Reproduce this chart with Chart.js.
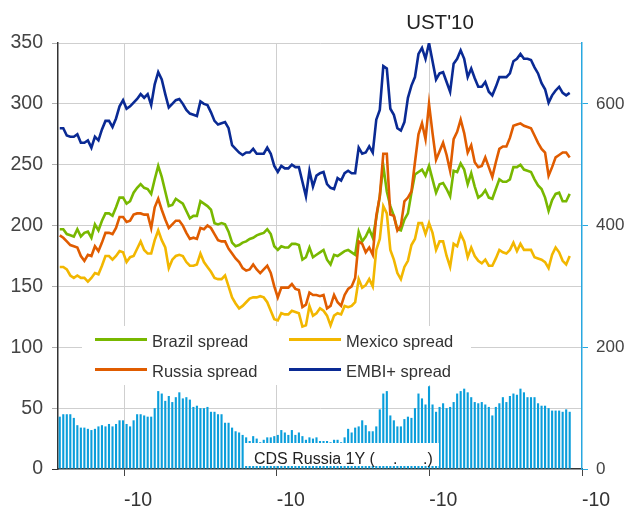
<!DOCTYPE html>
<html>
<head>
<meta charset="utf-8">
<script src="https://cdn.jsdelivr.net/npm/chart.js@4"></script>
<style>
  html, body { margin: 0; padding: 0; background: #fff; }
  #wrap { width: 627px; height: 512px; }
</style>
</head>
<body>
<div id="wrap"><canvas id="chart"></canvas></div>
<script>
// weekly slots, the last few are empty
const weeks = Array.from({ length: 149 }, (_, i) => i + 1)

const brazilSpread = [
  197,197,193,192,191,197,191,194,195,190,
  201,196,204,210,210,208,215,223,223,218,
  220,227,231,234,231,230,226,238,249,240,
  228,216,217,222,220,218,212,206,208,208,
  220,218,216,213,202,201,202,201,195,186,
  183,184,186,187,189,190,192,193,194,197,
  193,183,180,183,182,182,185,185,184,172,
  174,182,174,176,178,180,172,168,176,175,
  177,179,180,178,176,195,187,191,197,190,
  206,224,249,228,216,208,197,196,205,210,
  227,242,244,246,241,249,238,227,234,235,
  230,224,245,244,251,246,234,243,232,223,
  225,229,223,222,230,238,236,236,238,248,
  248,250,246,245,244,238,233,230,223,212,
  221,226,227,220,220,226
]

const mexicoSpread = [
  166,166,164,159,157,159,157,157,154,157,
  161,160,167,175,175,172,175,179,178,170,
  174,175,181,187,180,177,177,188,196,188,
  182,165,172,175,176,175,170,167,167,168,
  177,170,166,162,157,156,156,159,150,141,
  136,132,134,137,140,141,141,142,141,137,
  130,123,122,128,127,127,130,129,128,117,
  118,134,126,128,132,130,126,118,126,128,
  127,134,133,134,137,156,149,151,156,150,
  180,189,216,210,180,172,161,156,166,171,
  184,189,202,202,193,202,194,180,187,187,
  175,166,185,183,193,187,174,182,175,171,
  169,172,167,167,173,180,178,177,180,186,
  179,185,180,180,180,174,173,172,170,165,
  176,182,178,171,168,175
]

const russiaSpread = [
  192,190,187,184,183,182,175,171,176,175,
  183,179,186,194,194,193,198,207,207,203,
  204,209,210,210,209,209,198,215,222,213,
  205,198,201,204,204,200,194,189,190,189,
  198,197,200,198,193,188,187,187,181,177,
  173,170,165,163,164,168,164,161,164,167,
  161,150,141,149,149,149,152,148,147,133,
  135,145,143,143,142,143,132,134,143,137,
  134,143,148,150,157,187,185,178,182,176,
  208,224,259,259,209,208,196,200,220,223,
  228,252,275,284,271,300,276,254,261,268,
  258,245,271,277,287,276,260,266,252,248,
  249,256,248,240,252,263,265,265,272,282,
  283,284,282,281,280,274,268,263,260,241,
  248,256,258,260,260,256
]

const embiSpread = [
  280,280,274,273,273,275,268,268,270,264,
  273,270,279,286,286,281,288,298,303,296,
  298,301,304,308,305,308,299,316,326,320,
  308,297,300,303,304,300,295,292,291,290,
  302,300,299,293,286,283,284,285,280,266,
  263,260,258,260,260,263,259,259,259,264,
  259,249,244,249,247,247,250,248,248,236,
  224,245,232,241,243,244,234,231,230,239,
  237,243,245,243,243,264,259,260,265,260,
  287,295,331,329,296,291,280,278,285,305,
  315,322,341,346,337,350,335,320,325,326,
  318,310,333,337,344,337,322,329,321,314,
  314,318,310,307,314,322,322,322,325,335,
  337,341,337,337,336,330,325,317,312,301,
  307,311,314,309,307,309
]

const cdsRussia1Y = [
  43,45,45,45,42,36,34,34,33,32,
  33,35,36,35,37,35,37,40,40,37,
  35,40,45,45,44,43,43,50,64,62,
  56,60,55,59,63,58,59,57,51,52,
  50,50,51,47,47,45,45,38,38,34,
  31,30,28,26,23,27,25,22,24,26,
  26,27,28,32,30,28,32,28,30,27,
  24,26,25,26,23,23,23,22,24,24,
  22,26,33,30,34,35,40,36,31,31,
  35,49,62,64,44,40,35,35,41,43,
  42,50,62,58,53,68,53,47,51,54,
  50,51,55,62,64,66,63,59,55,54,
  55,53,51,44,51,54,59,55,60,62,
  61,66,63,59,59,59,54,52,52,50,
  48,48,48,47,49,47
]

const yearTicks = [18.8, 62.2, 105.6, 149]
const yearLabels = ['-10', '-10', '-10', '-10']
const rightTicks = [0, 200, 400, 600]

const brazilColor = '#78b800'
const mexicoColor = '#f2b700'
const russiaColor = '#e05c00'
const embiColor = '#0a2a94'
const cdsColor = '#0a9edb'
const axisBlue = '#28a8e0'
const gridColor = '#cfcfcf'
const font = '"Liberation Sans", Arial, sans-serif'

const legendItems = [
  { label: 'Brazil spread', color: brazilColor, x: 95, y: 339.5 },
  { label: 'Mexico spread', color: mexicoColor, x: 289, y: 339.5 },
  { label: 'Russia spread', color: russiaColor, x: 95, y: 369.5 },
  { label: 'EMBI+ spread', color: embiColor, x: 289, y: 369.5 }
]

function lineSet(label, data, color, order) {
  return {
    type: 'line',
    label: label,
    data: data,
    borderColor: color,
    borderWidth: 2.6,
    pointRadius: 0,
    tension: 0,
    fill: false,
    order: order
  }
}

// white boxes with the legend and the bar label, drawn inside the plot
const overlay = {
  id: 'overlay',
  beforeDatasetsDraw(chart) {
    const ctx = chart.ctx
    ctx.save()
    ctx.fillStyle = '#fff'
    ctx.fillRect(82, 326, 389, 59)
    ctx.font = '16.5px ' + font
    ctx.textBaseline = 'alphabetic'
    legendItems.forEach(item => {
      ctx.strokeStyle = item.color
      ctx.lineWidth = 3
      ctx.beginPath()
      ctx.moveTo(item.x, item.y)
      ctx.lineTo(item.x + 52, item.y)
      ctx.stroke()
      ctx.fillStyle = '#333'
      ctx.fillText(item.label, item.x + 57, item.y + 7)
    })
    ctx.restore()
  },
  afterDatasetsDraw(chart) {
    const ctx = chart.ctx
    ctx.save()
    ctx.fillStyle = '#fff'
    ctx.fillRect(245, 443, 194, 23)
    ctx.fillStyle = '#222'
    ctx.font = '16px ' + font
    ctx.textBaseline = 'alphabetic'
    ctx.fillText('CDS Russia 1Y (', 254, 463.5)
    ctx.fillText('.', 393, 463.5)
    ctx.fillText('.)', 423, 463.5)
    ctx.restore()
  },
  afterDraw(chart) {
    const ctx = chart.ctx
    ctx.save()
    ctx.fillStyle = '#222'
    ctx.font = '20.5px ' + font
    ctx.textAlign = 'center'
    ctx.textBaseline = 'alphabetic'
    ctx.fillText("UST'10", 440, 29)
    ctx.restore()
  }
}

new Chart(document.getElementById('chart'), {
  type: 'line',
  data: {
    labels: weeks,
    datasets: [
      lineSet('EMBI+ spread', embiSpread, embiColor, 1),
      lineSet('Russia spread', russiaSpread, russiaColor, 2),
      lineSet('Mexico spread', mexicoSpread, mexicoColor, 3),
      lineSet('Brazil spread', brazilSpread, brazilColor, 4),
      {
        type: 'bar',
        label: 'CDS Russia 1Y',
        data: cdsRussia1Y,
        backgroundColor: cdsColor,
        borderWidth: 0,
        barPercentage: 0.6,
        categoryPercentage: 1,
        order: 5
      }
    ]
  },
  options: {
    responsive: true,
    maintainAspectRatio: false,
    animation: false,
    events: [],
    layout: { padding: { top: 43, left: 0, right: 0, bottom: 0 } },
    plugins: {
      legend: { display: false },
      tooltip: { enabled: false },
      title: { display: false }
    },
    scales: {
      x: {
        type: 'category',
        display: false,
        offset: true
      },
      xt: {
        type: 'linear',
        position: 'bottom',
        min: 0,
        max: 149,
        afterBuildTicks: scale => { scale.ticks = yearTicks.map(v => ({ value: v })) },
        afterFit: scale => { scale.height = 43 },
        ticks: {
          autoSkip: false,
          maxRotation: 0,
          labelOffset: 14,
          padding: 13,
          color: '#333',
          font: { size: 19.5, family: font },
          callback: (value, index) => yearLabels[index]
        },
        grid: {
          color: c => (c.tick && c.tick.value === 149) ? 'rgba(0,0,0,0)' : gridColor,
          tickColor: '#444',
          tickLength: 7,
          lineWidth: 1
        },
        border: { color: '#333', width: 1.5 }
      },
      y: {
        position: 'left',
        min: 0,
        max: 350,
        afterFit: scale => { scale.width = 58 },
        ticks: {
          stepSize: 50,
          padding: 9,
          color: '#444',
          font: { size: 19.5, family: font }
        },
        grid: {
          color: c => (c.tick && c.tick.value === 0) ? 'rgba(0,0,0,0)' : gridColor,
          tickColor: c => (c.tick && c.tick.value === 0) ? '#333' : '#b0b0b0',
          tickLength: 6,
          lineWidth: 1
        },
        border: { color: '#333', width: 1.5 }
      },
      y2: {
        position: 'right',
        min: 0,
        max: 700,
        afterBuildTicks: scale => { scale.ticks = rightTicks.map(v => ({ value: v })) },
        afterFit: scale => { scale.width = 45 },
        ticks: {
          padding: 8,
          color: '#444',
          font: { size: 17, family: font }
        },
        grid: {
          drawOnChartArea: false,
          color: axisBlue,
          tickColor: axisBlue,
          tickLength: 6
        },
        border: { color: axisBlue, width: 1.5 }
      }
    }
  },
  plugins: [overlay]
})
</script>
</body>
</html>
